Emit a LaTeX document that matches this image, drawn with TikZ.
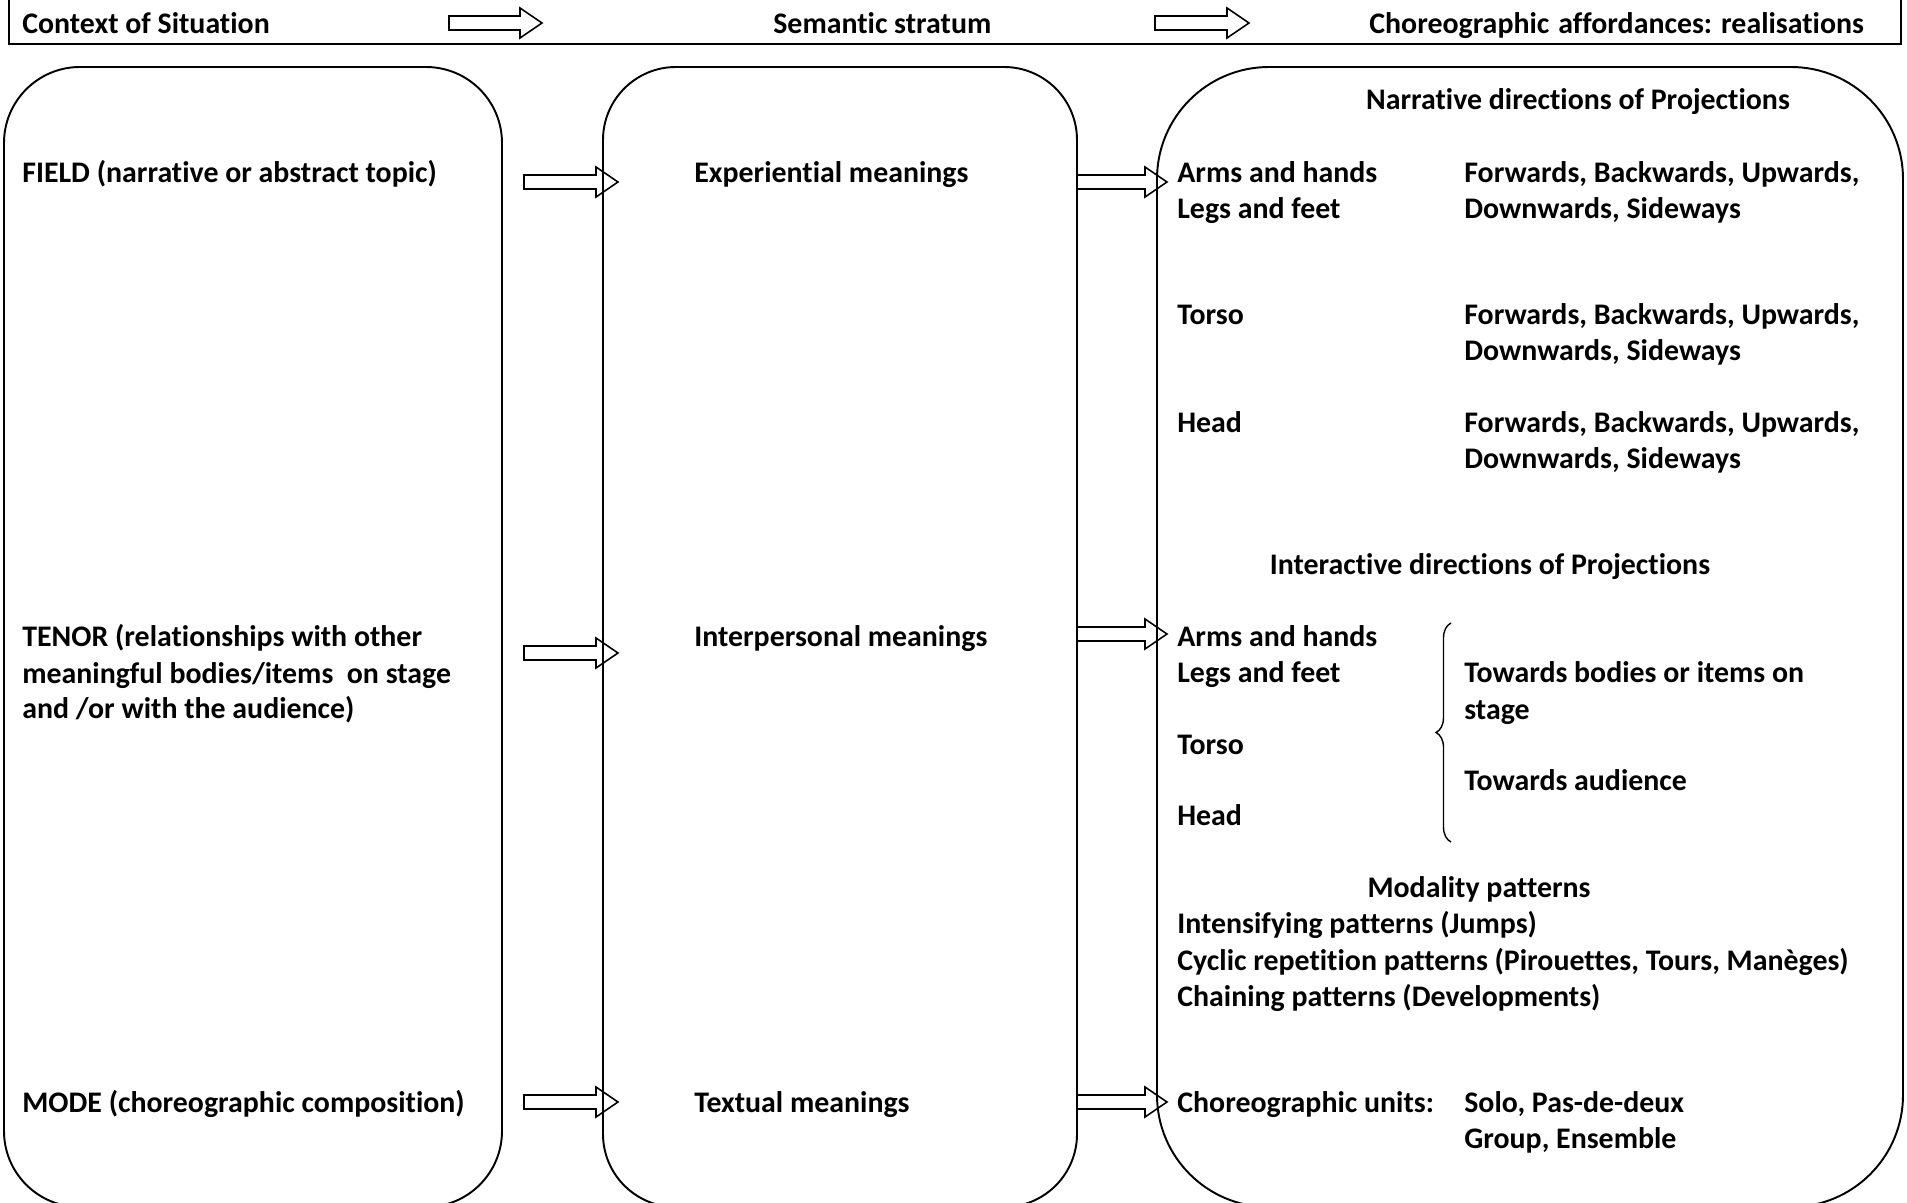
\documentclass[tikz,border=0pt]{standalone}
\usepackage{fontspec}
\setmainfont{Carlito}[Ligatures=NoCommon]
\usetikzlibrary{calc,decorations.pathreplacing}

\newcommand{\blockarrow}[2]{%
  \draw[arrowline] ($(#1)+(0,-7)$) -- ($(#2)+(-22,-7)$) -- ($(#2)+(-22,-15)$) -- (#2)
    -- ($(#2)+(-22,15)$) -- ($(#2)+(-22,7)$) -- ($(#1)+(0,7)$) -- cycle;}

\begin{document}
\begin{tikzpicture}[x=0.02cm, y=-0.02cm, panel/.style={draw, line width=1.1pt}, arrowline/.style={line width=0.9pt}, txt/.style={anchor=base west}, title/.style={anchor=base}]
	\tikzstyle{every node}=[inner sep=0pt, font=\fontsize{17pt}{20.4pt}\selectfont\bfseries]
	\useasboundingbox (0,0) rectangle (1907,1203);
	\clip (0,0) rectangle (1907,1203);

	\draw[panel] (9,-20) rectangle (1901,44);
	\node[txt] (ctx) at (22,34) {Context of Situation};
	\node[txt] (sem) at (773,34) {Semantic stratum};
	\node[txt] (cho) at (1369,34) {Choreographic\hspace{0.3em}affordances: realisations};
	\coordinate (h1s) at (449,23); \coordinate (h1e) at (542,23);
	\coordinate (h2s) at (1155,23); \coordinate (h2e) at (1249,23);
	\blockarrow{h1s}{h1e}
	\blockarrow{h2s}{h2e}

	\draw[panel, rounded corners=1.52cm] (4,67) rectangle (502,1207);
	\draw[panel, rounded corners=1.46cm] (603,67) rectangle (1077,1207);
	\draw[panel, rounded corners=2.24cm] (1157,67) rectangle (1903,1207);

	\node[txt] (field) at (22,182) {FIELD (narrative or abstract topic)};
	\node[txt] (tenor1) at (22,646) {TENOR (relationships with other};
	\node[txt] (tenor2) at (22,683) {meaningful bodies/items\ \ on stage};
	\node[txt] (tenor3) at (22,718) {and /or with the audience)};
	\node[txt] (mode) at (22,1112) {MODE (choreographic composition)};

	\node[txt] (exper) at (694,182) {Experiential meanings};
	\node[txt] (interp) at (694,646) {Interpersonal meanings};
	\node[txt] (textual) at (694,1112) {Textual meanings};

	\node[title] (narr) at (1578,110) {Narrative directions of Projections};
	\node[txt] (arms1) at (1177,182) {Arms and hands};
	\node[txt] (legs1) at (1177,218) {Legs and feet};
	\node[txt] (torso1) at (1177,324) {Torso};
	\node[txt] (head1) at (1177,432) {Head};
	\foreach \i/\yb in {1/182, 2/324, 3/432} {
		\node[txt] (fwd\i) at (1464,\yb) {Forwards, Backwards, Upwards,};
		\node[txt] (down\i) at (1464,\yb+36) {Downwards, Sideways};
	}

	\node[title] (inter) at (1490,574) {Interactive directions of Projections};
	\node[txt] (arms2) at (1177,646) {Arms and hands};
	\node[txt] (legs2) at (1177,682) {Legs and feet};
	\node[txt] (torso2) at (1177,754) {Torso};
	\node[txt] (head2) at (1177,825) {Head};
	\coordinate (bb) at (1451,842); \coordinate (bt) at (1451,623);
	\draw[decorate, decoration={brace, amplitude=0.3cm}, line width=0.8pt] (bb) -- (bt);
	\node[txt] (tow1) at (1464,682) {Towards bodies or items on};
	\node[txt] (tow2) at (1464,719) {stage};
	\node[txt] (aud) at (1464,790) {Towards audience};

	\node[title] (modal) at (1479,897) {Modality patterns};
	\node[txt] (intens) at (1177,933) {Intensifying patterns (Jumps)};
	\node[txt] (cyclic) at (1177,970) {Cyclic repetition patterns (Pirouettes, Tours, Manèges)};
	\node[txt] (chain) at (1177,1006) {Chaining patterns (Developments)};

	\node[txt] (units) at (1177,1112) {Choreographic units:};
	\node[txt] (solo) at (1464,1112) {Solo, Pas-de-deux};
	\node[txt] (group) at (1464,1148) {Group, Ensemble};

	\coordinate (a1s) at (524,182); \coordinate (a1e) at (618,182);
	\coordinate (a2s) at (524,653); \coordinate (a2e) at (618,653);
	\coordinate (a3s) at (524,1102); \coordinate (a3e) at (618,1102);
	\coordinate (b1s) at (1077,182); \coordinate (b1e) at (1167,182);
	\coordinate (b2s) at (1077,634); \coordinate (b2e) at (1167,634);
	\coordinate (b3s) at (1077,1102); \coordinate (b3e) at (1167,1102);
	\blockarrow{a1s}{a1e}
	\blockarrow{a2s}{a2e}
	\blockarrow{a3s}{a3e}
	\blockarrow{b1s}{b1e}
	\blockarrow{b2s}{b2e}
	\blockarrow{b3s}{b3e}
\end{tikzpicture}
\end{document}
